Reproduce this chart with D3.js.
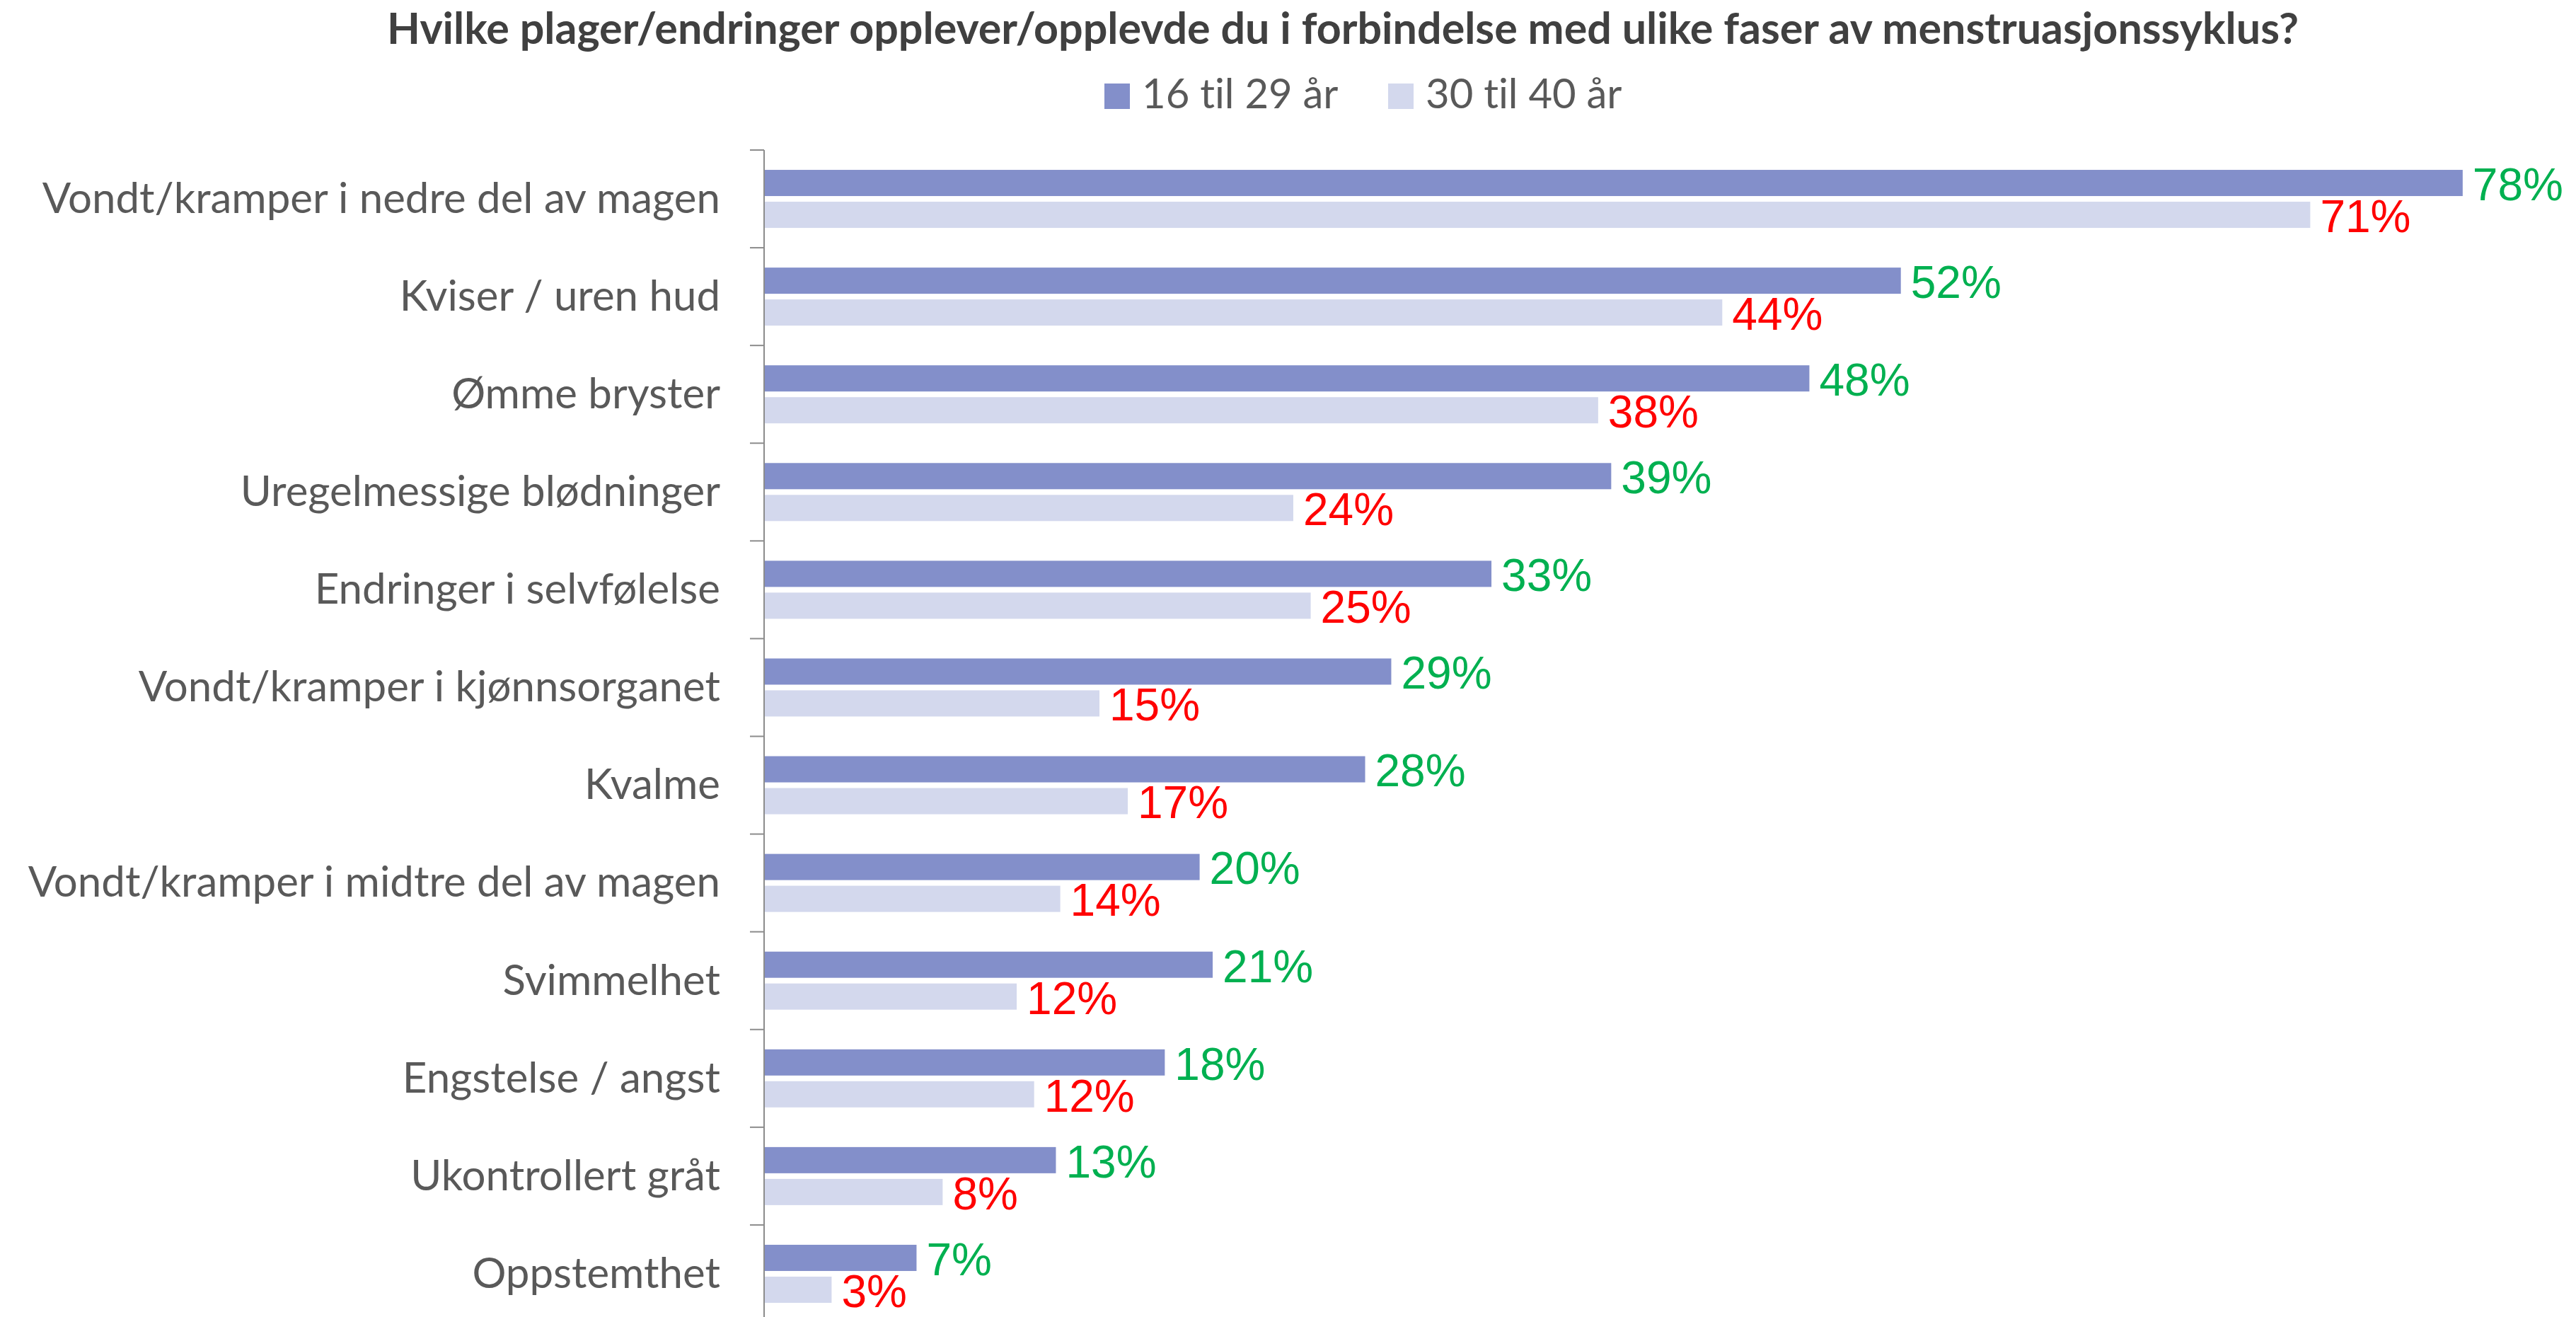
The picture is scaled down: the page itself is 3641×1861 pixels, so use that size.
<!DOCTYPE html>
<html>
<head>
<meta charset="utf-8">
<script src="https://cdn.jsdelivr.net/npm/d3@7"></script>
<style>
	body { margin: 0; background: #fff; }
	svg { display: block; }
	text { font-variant-ligatures: none; font-feature-settings: "liga" 0; }
</style>
</head>
<body>
<div id="chart"></div>
<script>

// === Data === //

var title = 'Hvilke plager/endringer opplever/opplevde du i forbindelse med ulike faser av menstruasjonssyklus?';

var categories = [
	'Vondt/kramper i nedre del av magen',
	'Kviser / uren hud',
	'Ømme bryster',
	'Uregelmessige blødninger',
	'Endringer i selvfølelse',
	'Vondt/kramper i kjønnsorganet',
	'Kvalme',
	'Vondt/kramper i midtre del av magen',
	'Svimmelhet',
	'Engstelse / angst',
	'Ukontrollert gråt',
	'Oppstemthet'
];

var seriesNames = ['16 til 29 år', '30 til 40 år'];

// percent (labels are the rounded values)
var young = [78, 52.2, 48, 38.9, 33.4, 28.8, 27.6, 20, 20.6, 18.4, 13.4, 7];
var older = [71, 44, 38.3, 24.3, 25.1, 15.4, 16.7, 13.6, 11.6, 12.4, 8.2, 3.1];


// === Globals === //

var width = 3641, height = 1861;

var colours = ['#838FCA', '#D3D8ED'];
var labelColours = ['#00B050', '#FF0000'];
var textGrey = '#595959';

var axisX = 1080;
var plotTop = 212;
var plotBottom = 1869;

var svg = d3.select('#chart').append('svg')
	.attr('width', width)
	.attr('height', height);


// === Scales === //

var x = d3.scaleLinear()
	.domain([0, 80])
	.range([axisX, axisX + 80 * 30.78]);

var y = d3.scaleBand()
	.domain(categories)
	.range([plotTop, plotBottom])
	.padding(0);

var ySub = d3.scaleBand()
	.domain(seriesNames)
	.range([0, y.bandwidth()])
	.paddingInner(8 / 45)
	.paddingOuter(0.623);


// === Title and legend === //

svg.append('text')
	.attr('x', 1898)
	.attr('y', 62)
	.attr('text-anchor', 'middle')
	.style('font-family', 'Lato, sans-serif')
	.style('font-weight', 'bold')
	.style('font-size', '61px')
	.style('fill', '#404040')
	.text(title);

var legendX = [1561, 1962];

var legend = svg.selectAll('g.legend')
	.data(seriesNames)
	.enter()
	.append('g')
	.classed('legend', true)
	.attr('transform', function(d, i) { return 'translate(' + legendX[i] + ',118)'; });

legend.append('rect')
	.attr('width', 36)
	.attr('height', 36)
	.attr('fill', function(d, i) { return colours[i]; });

legend.append('text')
	.attr('x', 53)
	.attr('y', 35)
	.style('font-family', 'Lato, sans-serif')
	.style('font-size', '58px')
	.style('fill', textGrey)
	.text(function(d) { return d; });


// === Bars === //

var rows = categories.map(function(c, i) {
	return { cat: c, values: [young[i], older[i]] };
});

var groups = svg.selectAll('g.row')
	.data(rows)
	.enter()
	.append('g')
	.classed('row', true)
	.attr('transform', function(d) { return 'translate(0,' + y(d.cat) + ')'; });

groups.selectAll('rect')
	.data(function(d) { return d.values; })
	.enter()
	.append('rect')
	.attr('x', x(0))
	.attr('y', function(d, i) { return ySub(seriesNames[i]); })
	.attr('width', function(d) { return x(d) - x(0); })
	.attr('height', ySub.bandwidth())
	.attr('fill', function(d, i) { return colours[i]; });

groups.selectAll('text.value')
	.data(function(d) { return d.values; })
	.enter()
	.append('text')
	.classed('value', true)
	.attr('x', function(d) { return x(d) + 14; })
	.attr('y', function(d, i) { return ySub(seriesNames[i]) + ySub.bandwidth() / 2; })
	.attr('dy', '0.38em')
	.style('font-family', '"Liberation Sans", Arial, sans-serif')
	.style('font-size', '64px')
	.style('fill', function(d, i) { return labelColours[i]; })
	.text(function(d) { return Math.round(d) + '%'; });


// === Category axis === //

var yAxis = svg.append('g').classed('y-axis', true);

yAxis.append('line')
	.attr('x1', axisX).attr('x2', axisX)
	.attr('y1', plotTop).attr('y2', height)
	.attr('stroke', '#8C8C8C')
	.attr('stroke-width', 2);

yAxis.selectAll('line.tick')
	.data(d3.range(categories.length + 1))
	.enter()
	.append('line')
	.classed('tick', true)
	.attr('x1', axisX - 20).attr('x2', axisX)
	.attr('y1', function(i) { return plotTop + i * y.step(); })
	.attr('y2', function(i) { return plotTop + i * y.step(); })
	.attr('stroke', '#8C8C8C')
	.attr('stroke-width', 2);

yAxis.selectAll('text')
	.data(categories)
	.enter()
	.append('text')
	.attr('x', 1018)
	.attr('y', function(d) { return y(d) + y.bandwidth() / 2; })
	.attr('dy', '0.33em')
	.attr('text-anchor', 'end')
	.style('font-family', 'Lato, sans-serif')
	.style('font-size', '60px')
	.style('fill', textGrey)
	.text(function(d) { return d; });

</script>
</body>
</html>
